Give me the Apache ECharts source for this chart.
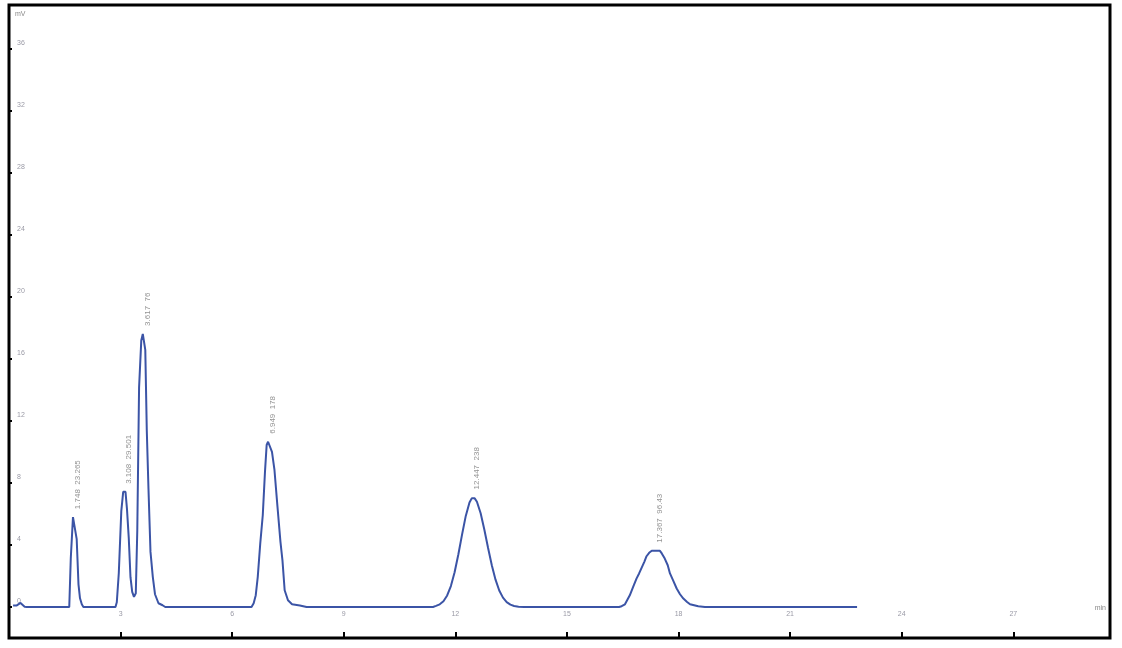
<!DOCTYPE html>
<html>
<head>
<meta charset="utf-8">
<script src="https://cdn.jsdelivr.net/npm/echarts@6/dist/echarts.min.js"></script>
<style>
html,body{margin:0;padding:0;background:#fff;}
#chart{width:1122px;height:648px;}
</style>
</head>
<body>
<div id="chart"></div>
<script>
// Retention time (min) and detector signal (mV)
const timePoints = [
  0.11,0.21,0.31,0.35,0.42,0.48,1.00,1.62,
  1.661,1.72,1.766,1.82,1.868,1.909,1.957,2.00,
  2.50,2.863,
  2.898,2.952,3.019,3.07,3.132,3.172,3.22,3.266,3.312,3.36,3.409,3.449,3.497,3.556,3.597,3.634,3.664,3.704,3.75,3.804,3.866,3.925,4.019,4.129,4.20,
  5.00,6.00,6.52,
  6.578,6.634,6.688,6.755,6.823,6.882,6.927,6.965,7.003,7.07,7.137,7.218,7.298,7.352,7.411,7.50,7.61,7.82,8.00,
  9.00,10.00,11.00,11.40,
  11.48,11.58,11.68,11.78,11.88,11.98,12.08,12.18,12.28,12.38,12.44,12.48,12.52,12.58,12.68,12.78,12.88,12.98,13.08,13.18,13.28,13.38,13.48,13.58,13.70,13.85,
  14.50,15.50,16.40,
  16.47,16.56,16.69,16.78,16.87,16.94,17.01,17.08,17.14,17.21,17.28,17.39,17.50,17.55,17.63,17.71,17.77,17.86,17.95,18.04,18.13,18.23,18.31,18.53,18.71,
  19.50,20.50,21.50,22.80
];
const signal = [
  0.10,0.10,0.26,0.20,0.02,0,0,0,
  3.14,5.79,5.79,4.37,1.46,0.56,0.17,0,
  0,0,
  0.30,2.19,6.18,7.42,7.42,6.31,4.44,1.92,0.97,0.65,0.88,4.95,14.14,17.17,17.6,17.6,16.57,11.41,7.6,3.55,1.94,0.82,0.24,0.11,0,
  0,0,0,
  0.24,0.76,1.94,4.10,5.93,8.72,10.44,10.65,10.65,10.0,8.83,6.46,4.20,3.0,1.08,0.43,0.17,0.10,0,
  0,0,0,0,
  0.07,0.17,0.37,0.74,1.35,2.24,3.38,4.66,5.87,6.73,7.0,7.06,7.0,6.78,6.04,4.98,3.80,2.69,1.76,1.06,0.60,0.31,0.15,0.06,0.02,0,
  0,0,0,
  0.05,0.17,0.75,1.29,1.83,2.16,2.54,2.91,3.27,3.49,3.62,3.63,3.62,3.45,3.12,2.69,2.16,1.68,1.19,0.82,0.54,0.32,0.17,0.05,0,
  0,0,0,0
];
// Peak annotations
const peakTimes   = [1.74, 3.10, 3.616, 6.985, 12.48, 17.39];
const peakHeights = [5.79, 7.42, 17.6, 10.65, 7.06, 3.63];
const peakLabels  = ['1.748  23.265', '3.108  29.501', '3.617  76', '6.949  178', '12.447  238', '17.367  96.43'];
// Axis tick labels
const xTicks = [3, 6, 9, 12, 15, 18, 21, 24, 27];
const yTicks = [0, 4, 8, 12, 16, 20, 24, 28, 32, 36];

const chart = echarts.init(document.getElementById('chart'), null, {renderer: 'canvas'});
const tickFont = {color: '#9a9aa6', fontSize: 7, fontFamily: 'Liberation Sans'};

chart.setOption({
  animation: false,
  backgroundColor: '#fff',
  grid: {left: 9, right: 12, top: 5, bottom: 10, show: true, borderColor: '#000', borderWidth: 3, backgroundColor: 'transparent'},
  xAxis: {
    type: 'value', min: 0, max: 29.6,
    name: 'min', nameLocation: 'end', nameGap: -4,
    nameTextStyle: {color: '#888', fontSize: 7, fontFamily: 'Liberation Sans', align: 'right', verticalAlign: 'bottom', padding: [0, 0, 26, 0]},
    axisLine: {show: false, onZero: false},
    axisTick: {show: true, inside: true, length: 6, lineStyle: {color: '#000', width: 2}, customValues: xTicks},
    axisLabel: Object.assign({inside: true, margin: 20, customValues: xTicks}, tickFont),
    splitLine: {show: false}
  },
  yAxis: {
    type: 'value', min: -2, max: 38.8,
    name: 'mV', nameLocation: 'end', nameGap: -9,
    nameTextStyle: {color: '#888', fontSize: 7, fontFamily: 'Liberation Sans', align: 'left', verticalAlign: 'middle', padding: [0, 0, 0, 6]},
    axisLine: {show: false, onZero: false},
    axisTick: {show: true, inside: true, length: 3, lineStyle: {color: '#000', width: 2}, customValues: yTicks},
    axisLabel: Object.assign({inside: true, margin: 8, verticalAlign: 'bottom', padding: [0, 0, 2, 0], customValues: yTicks}, tickFont),
    splitLine: {show: false}
  },
  series: [
    {
      type: 'line',
      data: timePoints.map((t, i) => [t, signal[i]]),
      showSymbol: false,
      symbol: 'none',
      lineStyle: {color: '#3b54a6', width: 2},
      silent: true,
      z: 3
    },
    {
      type: 'scatter',
      data: peakTimes.map((t, i) => [t, peakHeights[i]]),
      symbolSize: 2,
      itemStyle: {color: 'rgba(0,0,0,0)'},
      silent: true,
      label: {
        show: true,
        formatter: p => peakLabels[p.dataIndex],
        position: 'top',
        distance: 7,
        rotate: 90,
        align: 'left',
        verticalAlign: 'middle',
        offset: [0, 4],
        color: '#777',
        fontSize: 8,
        fontFamily: 'Liberation Sans'
      },
      z: 4
    }
  ]
});
</script>
</body>
</html>
